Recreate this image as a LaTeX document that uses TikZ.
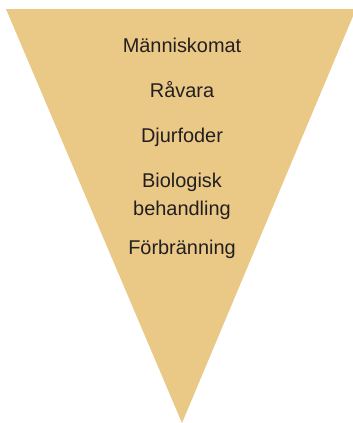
\documentclass[tikz,border=0pt]{standalone}
\usepackage{fontspec}
\setmainfont{Liberation Sans}
\definecolor{funnelfill}{RGB}{234,200,134}
\definecolor{labeltext}{RGB}{35,31,32}
\begin{document}
\begin{tikzpicture}[x=1bp,y=-1bp,
  level/.style={anchor=base,text=labeltext,font=\fontsize{20}{28}\selectfont,align=center,inner sep=0pt}]
\useasboundingbox (0,0) rectangle (353,423);
% inverted triangle
\coordinate (tl) at (6,9);
\coordinate (tr) at (356,9);
\coordinate (apex) at (182,423);
\fill[funnelfill] (tl) -- (tr) -- (apex) -- cycle;
% levels, top to bottom
\node[level] (l1) at (182,52.3) {Människomat};
\node[level] (l2) at (182,97.7) {Råvara};
\node[level] (l3) at (182,142) {Djurfoder};
\node[level] (l4) at (182,187) {Biologisk};
\node[level] (l5) at (182,215.3) {behandling};
\node[level] (l6) at (182,254) {Förbränning};
\end{tikzpicture}
\end{document}
